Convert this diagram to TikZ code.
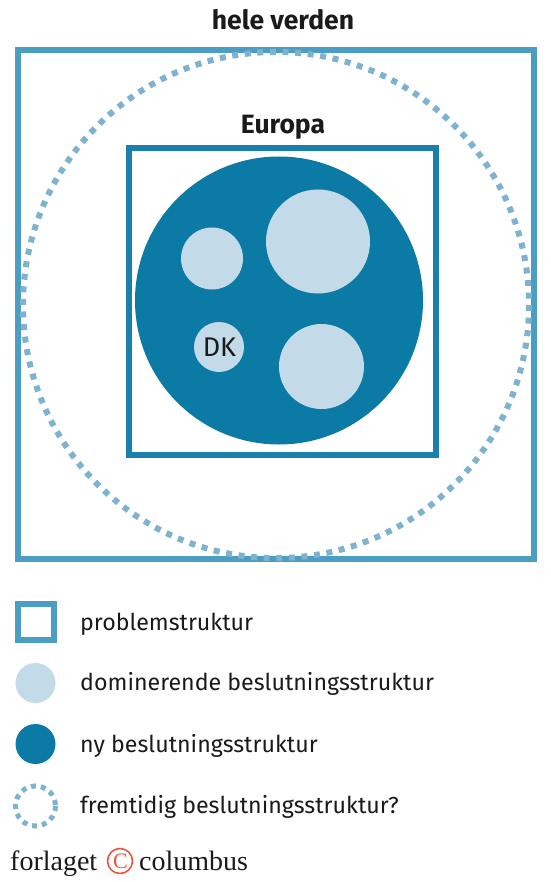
\documentclass[tikz,border=0pt]{standalone}
\usepackage{fontspec}
\setmainfont{Fira Sans}
\newfontfamily\logofont{Liberation Serif}
\definecolor{probl}{HTML}{4C9DC2}
\definecolor{europa}{HTML}{1A80AB}
\definecolor{nyb}{HTML}{0B7AA5}
\definecolor{domb}{HTML}{C3DAE8}
\definecolor{fremt}{HTML}{7FB2CF}
\definecolor{txt}{HTML}{1A1A1A}
\definecolor{logored}{HTML}{E8553D}
\tikzset{
  problsq/.style={draw=probl, line width=6pt},
  eurosq/.style={draw=europa, line width=6pt},
  nycirc/.style={fill=nyb},
  domcirc/.style={fill=domb},
  fremtcirc/.style={draw=fremt, line width=6pt, dash pattern=on 6pt off 6.62pt},
  fremtsmall/.style={draw=fremt, line width=5pt, dash pattern=on 5pt off 4.95pt},
  titlelbl/.style={font=\bfseries\fontsize{26.5}{30}\selectfont, text=txt, inner sep=0pt},
  legendlbl/.style={font=\fontsize{23.2}{27}\selectfont, text=txt, anchor=base west, inner sep=0pt},
  logolbl/.style={font=\logofont\fontsize{28}{32}\selectfont, text=txt, anchor=base west, inner sep=0pt},
}
\begin{document}
\begin{tikzpicture}[x=1pt,y=-1pt]
\useasboundingbox (0,0) rectangle (550,882);
% outer world square
\draw[problsq] (18,50) rectangle (534,559);
% dotted future circle
\draw[fremtcirc] (276,305) circle (253);
% Europa square
\draw[eurosq] (129,148) rectangle (436,455);
% big circle
\fill[nycirc] (279,300.5) circle (144);
\fill[domcirc] (212,258.5) circle (31);
\fill[domcirc] (318,241.5) circle (52);
\fill[domcirc] (321.5,366.5) circle (42.5);
\fill[domcirc] (219,347) circle (25);
\node[font=\fontsize{27}{30}\selectfont, text=txt, inner sep=0pt] (dk) at (219.5,347) {DK};
% titles
\node[titlelbl] (world) at (283,20) {hele verden};
\node[titlelbl] (eur) at (283,127) {Europa};
% legend
\draw[problsq] (18,604) rectangle (54,640);
\node[legendlbl] (l1) at (80,630) {problemstruktur};
\fill[domcirc] (35.5,683) circle (20);
\node[legendlbl] (l2) at (80,690) {dominerende beslutningsstruktur};
\fill[nycirc] (35.5,744) circle (20);
\node[legendlbl] (l3) at (80,752) {ny beslutningsstruktur};
\draw[fremtsmall] (35.5,806) circle (20);
\node[legendlbl] (l4) at (80,813) {fremtidig beslutningsstruktur?};
% logo
\node[logolbl] (lg1) at (10,870) {forlaget};
\draw[logored, line width=1.6pt] (120,861) circle (12.5);
\node[font=\logofont\fontsize{22}{24}\selectfont, text=logored, inner sep=0pt] (cc) at (120.5,861) {C};
\node[logolbl] (lg2) at (139,870) {columbus};
\end{tikzpicture}
\end{document}
